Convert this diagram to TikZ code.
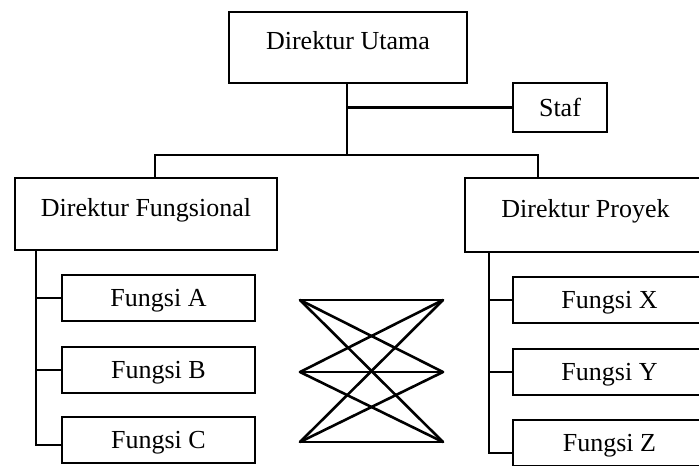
\documentclass[tikz,border=0pt]{standalone}
\usepackage{fontspec}
\setmainfont{Liberation Serif}
\begin{document}
\begin{tikzpicture}[x=1pt, y=-1pt, line width=2.4pt,
    font=\fontsize{26}{30}\selectfont,
    box/.style={draw, rectangle, inner sep=0pt, text height=19pt, text depth=2pt},
    headbox/.style={box, text depth=15pt},
    fungsi/.style={box, minimum width=193pt, minimum height=46pt}]
    \path[use as bounding box, clip] (0,0) rectangle (699,466);

    % Top level
    \node[headbox, minimum width=238pt, minimum height=71pt] (Utama) at (348,47.5) {Direktur Utama};
    \node[box, minimum width=94pt, minimum height=49pt] (Staf) at (560,107.5) {Staf};

    % Second level
    \node[headbox, minimum width=262pt, minimum height=72pt] (Fungsional) at (146,214) {Direktur Fungsional};
    \node[headbox, minimum width=241pt, minimum height=74pt] (Proyek) at (585.5,215) {Direktur Proyek};

    % Functions under each director
    \node[fungsi] (A) at (158.5,298) {Fungsi A};
    \node[fungsi] (B) at (158.5,370) {Fungsi B};
    \node[fungsi] (C) at (158.5,440) {Fungsi C};
    \node[fungsi] (X) at (609.5,300) {Fungsi X};
    \node[fungsi] (Y) at (609.5,372) {Fungsi Y};
    \node[fungsi] (Z) at (609.5,443) {Fungsi Z};

    % Lines from the top
    \coordinate (bus) at (347,155);
    \draw (Utama.south -| bus) -- (bus);
    \draw (Utama.south -| bus) |- (Staf.west);
    \draw (Fungsional.north -| 155,0) |- (bus) -| (Proyek.north -| 538,0);

    % Spines down to the functions
    \draw ([xshift=22pt]Fungsional.south west) |- ([yshift=-5pt]C.west);
    \draw ([xshift=22pt]Fungsional.south west |- A.west) -- (A.west);
    \draw ([xshift=22pt]Fungsional.south west |- B.west) -- (B.west);
    \draw ([xshift=25pt]Proyek.south west) |- ([yshift=-10pt]Z.west);
    \draw ([xshift=25pt]Proyek.south west |- X.west) -- (X.west);
    \draw ([xshift=25pt]Proyek.south west |- Y.west) -- (Y.west);

    % Crossing lines in the middle
    \coordinate (L1) at (300,300);
    \coordinate (L2) at (300,372);
    \coordinate (L3) at (300,442);
    \coordinate (R1) at (443,300);
    \coordinate (R2) at (443,372);
    \coordinate (R3) at (443,442);
    \foreach \i in {1,2,3}
        \foreach \j in {1,2,3}
            \draw[line cap=round, line width=2.6pt] (L\i) -- (R\j);
\end{tikzpicture}
\end{document}
